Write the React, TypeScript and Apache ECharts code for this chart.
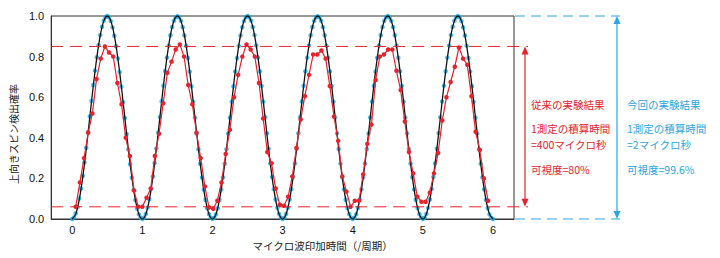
import React, { useEffect, useRef } from "react";
import * as echarts from "echarts";

// ---- axes ----
const xMin = -0.3;
const xMax = 6.3;
const xTickValues = [0, 1, 2, 3, 4, 5, 6];
const yMin = 0;
const yMax = 1;
const yInterval = 0.2;
const xAxisTitle = "マイクロ波印加時間（/周期）";
const yAxisTitle = "上向きスピン検出確率";

// ---- previous experiment (red): sampled every redStep starting at redStart ----
const redStart = 0.05;
const redStep = 0.0594;
const redY = [
  0.06, 0.18, 0.3, 0.425, 0.52, 0.69, 0.79, 0.85, 0.82, 0.8, 0.67, 0.565, 0.4, 0.31, 0.14, 0.06, 0.06,
  0.105, 0.15, 0.31, 0.42, 0.57, 0.72, 0.775, 0.835, 0.86, 0.8, 0.66, 0.565, 0.425, 0.3, 0.16, 0.057, 0.05,
  0.09, 0.18, 0.32, 0.44, 0.6, 0.71, 0.8, 0.86, 0.835, 0.8, 0.67, 0.495, 0.33, 0.275, 0.15, 0.07, 0.065,
  0.11, 0.21, 0.35, 0.49, 0.605, 0.71, 0.81, 0.81, 0.83, 0.79, 0.655, 0.505, 0.385, 0.21, 0.135, 0.06,
  0.09, 0.09, 0.22, 0.37, 0.465, 0.685, 0.8, 0.81, 0.835, 0.835, 0.73, 0.635, 0.48, 0.33, 0.225, 0.11, 0.085,
  0.085, 0.13, 0.225, 0.325, 0.485, 0.6, 0.675, 0.75, 0.845, 0.79, 0.76, 0.605, 0.43, 0.34, 0.2, 0.09,
];

// ---- this experiment (blue dots): sampled every blueStep from 0 ----
const blueStep = 0.025;
const bluePeriod1 = [0.0, 0.008, 0.027, 0.058, 0.101, 0.15, 0.212, 0.278, 0.351, 0.428, 0.505, 0.582, 0.66, 0.731, 0.797, 0.856, 0.906, 0.947, 0.977, 0.994, 1.0, 0.993, 0.975, 0.944, 0.903, 0.851, 0.791, 0.724, 0.652, 0.575, 0.497, 0.419, 0.342, 0.27, 0.203, 0.143, 0.093, 0.052, 0.023, 0.006];
const bluePeriod2 = [0.0, 0.007, 0.025, 0.056, 0.097, 0.148, 0.209, 0.276, 0.348, 0.425, 0.502, 0.58, 0.657, 0.729, 0.795, 0.855, 0.905, 0.946, 0.976, 0.993, 0.999, 0.994, 0.976, 0.945, 0.904, 0.853, 0.793, 0.726, 0.654, 0.577, 0.499, 0.421, 0.344, 0.272, 0.205, 0.145, 0.094, 0.053, 0.024, 0.006];
const bluePeriod3 = [0.001, 0.006, 0.023, 0.053, 0.094, 0.145, 0.205, 0.272, 0.344, 0.421, 0.499, 0.577, 0.654, 0.727, 0.793, 0.853, 0.904, 0.945, 0.975, 0.994, 1.0, 0.994, 0.977, 0.946, 0.906, 0.855, 0.795, 0.728, 0.656, 0.578, 0.501, 0.423, 0.346, 0.274, 0.207, 0.147, 0.096, 0.055, 0.025, 0.007];
const bluePeriod4 = [0.0, 0.007, 0.025, 0.055, 0.096, 0.147, 0.207, 0.274, 0.346, 0.423, 0.501, 0.579, 0.656, 0.728, 0.795, 0.855, 0.905, 0.946, 0.976, 0.994, 0.999, 0.994, 0.976, 0.945, 0.905, 0.854, 0.794, 0.727, 0.655, 0.578, 0.5, 0.422, 0.345, 0.273, 0.206, 0.146, 0.095, 0.054, 0.024, 0.006];
const bluePeriod5 = [0.0, 0.006, 0.024, 0.054, 0.095, 0.146, 0.206, 0.273, 0.345, 0.422, 0.5, 0.578, 0.655, 0.727, 0.794, 0.854, 0.905, 0.946, 0.976, 0.994, 1.0, 0.994, 0.976, 0.946, 0.905, 0.854, 0.794, 0.727, 0.655, 0.578, 0.5, 0.422, 0.345, 0.273, 0.206, 0.146, 0.095, 0.054, 0.024, 0.006];
const bluePeriod6 = [0.0, 0.007, 0.025, 0.055, 0.096, 0.147, 0.207, 0.274, 0.346, 0.423, 0.501, 0.579, 0.656, 0.728, 0.795, 0.855, 0.906, 0.947, 0.977, 0.994, 1.0, 0.993, 0.975, 0.944, 0.904, 0.853, 0.793, 0.726, 0.654, 0.577, 0.499, 0.421, 0.344, 0.272, 0.205, 0.145, 0.094, 0.053, 0.023, 0.006];
const blueLast = [0.0];

// ---- theory curve (black): sampled every theoryStep from 0 ----
const theoryStep = 0.05;
const theoryY = [
  0, 0.024, 0.095, 0.206, 0.345, 0.5, 0.655, 0.794, 0.905, 0.976, 1, 0.976, 0.905, 0.794, 0.655, 0.5, 0.345, 0.206, 0.095, 0.024,
  0, 0.024, 0.095, 0.206, 0.345, 0.5, 0.655, 0.794, 0.905, 0.976, 1, 0.976, 0.905, 0.794, 0.655, 0.5, 0.345, 0.206, 0.095, 0.024,
  0, 0.024, 0.095, 0.206, 0.345, 0.5, 0.655, 0.794, 0.905, 0.976, 1, 0.976, 0.905, 0.794, 0.655, 0.5, 0.345, 0.206, 0.095, 0.024,
  0, 0.024, 0.095, 0.206, 0.345, 0.5, 0.655, 0.794, 0.905, 0.976, 1, 0.976, 0.905, 0.794, 0.655, 0.5, 0.345, 0.206, 0.095, 0.024,
  0, 0.024, 0.095, 0.206, 0.345, 0.5, 0.655, 0.794, 0.905, 0.976, 1, 0.976, 0.905, 0.794, 0.655, 0.5, 0.345, 0.206, 0.095, 0.024,
  0, 0.024, 0.095, 0.206, 0.345, 0.5, 0.655, 0.794, 0.905, 0.976, 1, 0.976, 0.905, 0.794, 0.655, 0.5, 0.345, 0.206, 0.095, 0.024,
  0,
];

// ---- visibility range markers ----
const redHigh = 0.85;
const redLow = 0.06;
const blueHigh = 1.0;
const blueLow = 0.0;

const redTitle = "従来の実験結果";
const redTime = ["1測定の積算時間", "=400マイクロ秒"];
const redVis = "可視度=80%";
const blueTitle = "今回の実験結果";
const blueTime = ["1測定の積算時間", "=2マイクロ秒"];
const blueVis = "可視度=99.6%";

const RED = "#e8212a";
const BLUE_DOT = "#18a9e3";
const BLUE_TEXT = "#2aa6df";
const FONT_LATIN = '"Liberation Sans", Arial, "Noto Sans CJK JP", sans-serif';
const FONT_JP = '"Noto Sans CJK JP", "Liberation Sans", sans-serif';

export default function App() {
  const ref = useRef<HTMLDivElement>(null);

  useEffect(() => {
    document.body.style.margin = "0";
    if (!ref.current) return;
    const chart = echarts.init(ref.current, null, { renderer: "svg" });

    const blueY = [...bluePeriod1, ...bluePeriod2, ...bluePeriod3, ...bluePeriod4, ...bluePeriod5, ...bluePeriod6, ...blueLast];
    const blueData = blueY.map((v, i) => [i * blueStep, v]);
    const theoryData = theoryY.map((v, i) => [i * theoryStep, v]);
    const redData = redY.map((v, i) => [redStart + i * redStep, v]);

    chart.setOption({
      animation: false,
      grid: {
        left: 46,
        top: 16,
        width: 468,
        height: 203,
        show: true,
        borderColor: "#333",
        borderWidth: 1,
        backgroundColor: "transparent",
      },
      xAxis: {
        type: "value",
        min: xMin,
        max: xMax,
        name: xAxisTitle,
        nameLocation: "middle",
        nameGap: 17,
        nameTextStyle: { fontSize: 10.5, color: "#222", fontFamily: FONT_JP, padding: [0, 0, 0, 80] },
        axisLine: { show: true, onZero: false, lineStyle: { color: "#333", width: 1 } },
        axisTick: { show: false },
        splitLine: { show: false },
        axisLabel: {
          customValues: xTickValues,
          fontSize: 11,
          color: "#111",
          fontFamily: FONT_LATIN,
          margin: 5,
        },
      },
      yAxis: {
        type: "value",
        min: yMin,
        max: yMax,
        interval: yInterval,
        name: yAxisTitle,
        nameLocation: "middle",
        nameRotate: 90,
        nameGap: 22,
        nameTextStyle: { fontSize: 10, color: "#222", fontFamily: FONT_JP, padding: [0, 33, 0, 0] },
        axisLine: { show: true, onZero: false, lineStyle: { color: "#333", width: 1 } },
        axisTick: { show: false },
        splitLine: { show: false },
        axisLabel: {
          formatter: (v: number) => v.toFixed(1),
          fontSize: 11,
          color: "#111",
          fontFamily: FONT_LATIN,
          margin: 7,
        },
      },
      series: [
        {
          type: "scatter",
          data: blueData,
          symbol: "circle",
          symbolSize: 4.5,
          itemStyle: { color: BLUE_DOT },
          z: 2,
          silent: true,
        },
        {
          type: "line",
          data: theoryData,
          smooth: 0.3,
          showSymbol: false,
          symbol: "none",
          lineStyle: { color: "#111", width: 1.3 },
          z: 3,
          silent: true,
        },
        {
          type: "line",
          data: redData,
          symbol: "circle",
          symbolSize: 4.5,
          itemStyle: { color: RED },
          lineStyle: { color: RED, width: 1.2 },
          z: 4,
          silent: true,
        },
      ],
    });

    const px = (x: number, y: number) => chart.convertToPixel({ xAxisIndex: 0, yAxisIndex: 0 }, [x, y]) as number[];
    const left = px(xMin, 0)[0];
    const right = px(xMax, 0)[0];
    const yRH = px(0, redHigh)[1];
    const yRL = px(0, redLow)[1];
    const yBH = px(0, blueHigh)[1];
    const yBL = px(0, blueLow)[1];
    const redArrowX = right + 11;
    const blueArrowX = right + 103;
    const head = 8;
    const hw = 3.5;

    const arrow = (x: number, y1: number, y2: number, color: string) => [
      { type: "line", shape: { x1: x, y1: y1 + head - 1, x2: x, y2: y2 - head + 1 }, style: { stroke: color, lineWidth: 1.2 } },
      { type: "polygon", shape: { points: [[x, y1], [x - hw, y1 + head], [x + hw, y1 + head]] }, style: { fill: color } },
      { type: "polygon", shape: { points: [[x, y2], [x - hw, y2 - head], [x + hw, y2 - head]] }, style: { fill: color } },
    ];

    const txt = (x: number, y: number, text: string, color: string) => ({
      type: "text",
      x,
      y,
      style: { text, fill: color, fontSize: 10.5, fontFamily: FONT_JP, verticalAlign: "middle", align: "left" },
    });

    const block = (x: number, color: string, title: string, time: string[], vis: string) => [
      txt(x, 104.5, title, color),
      txt(x, 128, time[0], color),
      txt(x, 144, time[1], color),
      txt(x, 169, vis, color),
    ];

    chart.setOption({
      graphic: [
        { type: "line", shape: { x1: left, y1: yRH, x2: redArrowX + 3, y2: yRH }, style: { stroke: RED, lineWidth: 1, lineDash: [12, 7] }, z: 5 },
        { type: "line", shape: { x1: left, y1: yRL, x2: redArrowX + 3, y2: yRL }, style: { stroke: RED, lineWidth: 1, lineDash: [12, 7] }, z: 5 },
        { type: "line", shape: { x1: right + 1, y1: yBH, x2: blueArrowX + 3, y2: yBH }, style: { stroke: BLUE_TEXT, lineWidth: 1, lineDash: [10, 6] }, z: 5 },
        { type: "line", shape: { x1: right + 1, y1: yBL, x2: blueArrowX + 3, y2: yBL }, style: { stroke: BLUE_TEXT, lineWidth: 1, lineDash: [10, 6] }, z: 5 },
        ...arrow(redArrowX, yRH, yRL, RED),
        ...arrow(blueArrowX, yBH, yBL, BLUE_TEXT),
        ...block(right + 17, RED, redTitle, redTime, redVis),
        ...block(right + 113, BLUE_TEXT, blueTitle, blueTime, blueVis),
      ],
    });

    return () => chart.dispose();
  }, []);

  return <div ref={ref} style={{ width: 720, height: 258 }} />;
}
